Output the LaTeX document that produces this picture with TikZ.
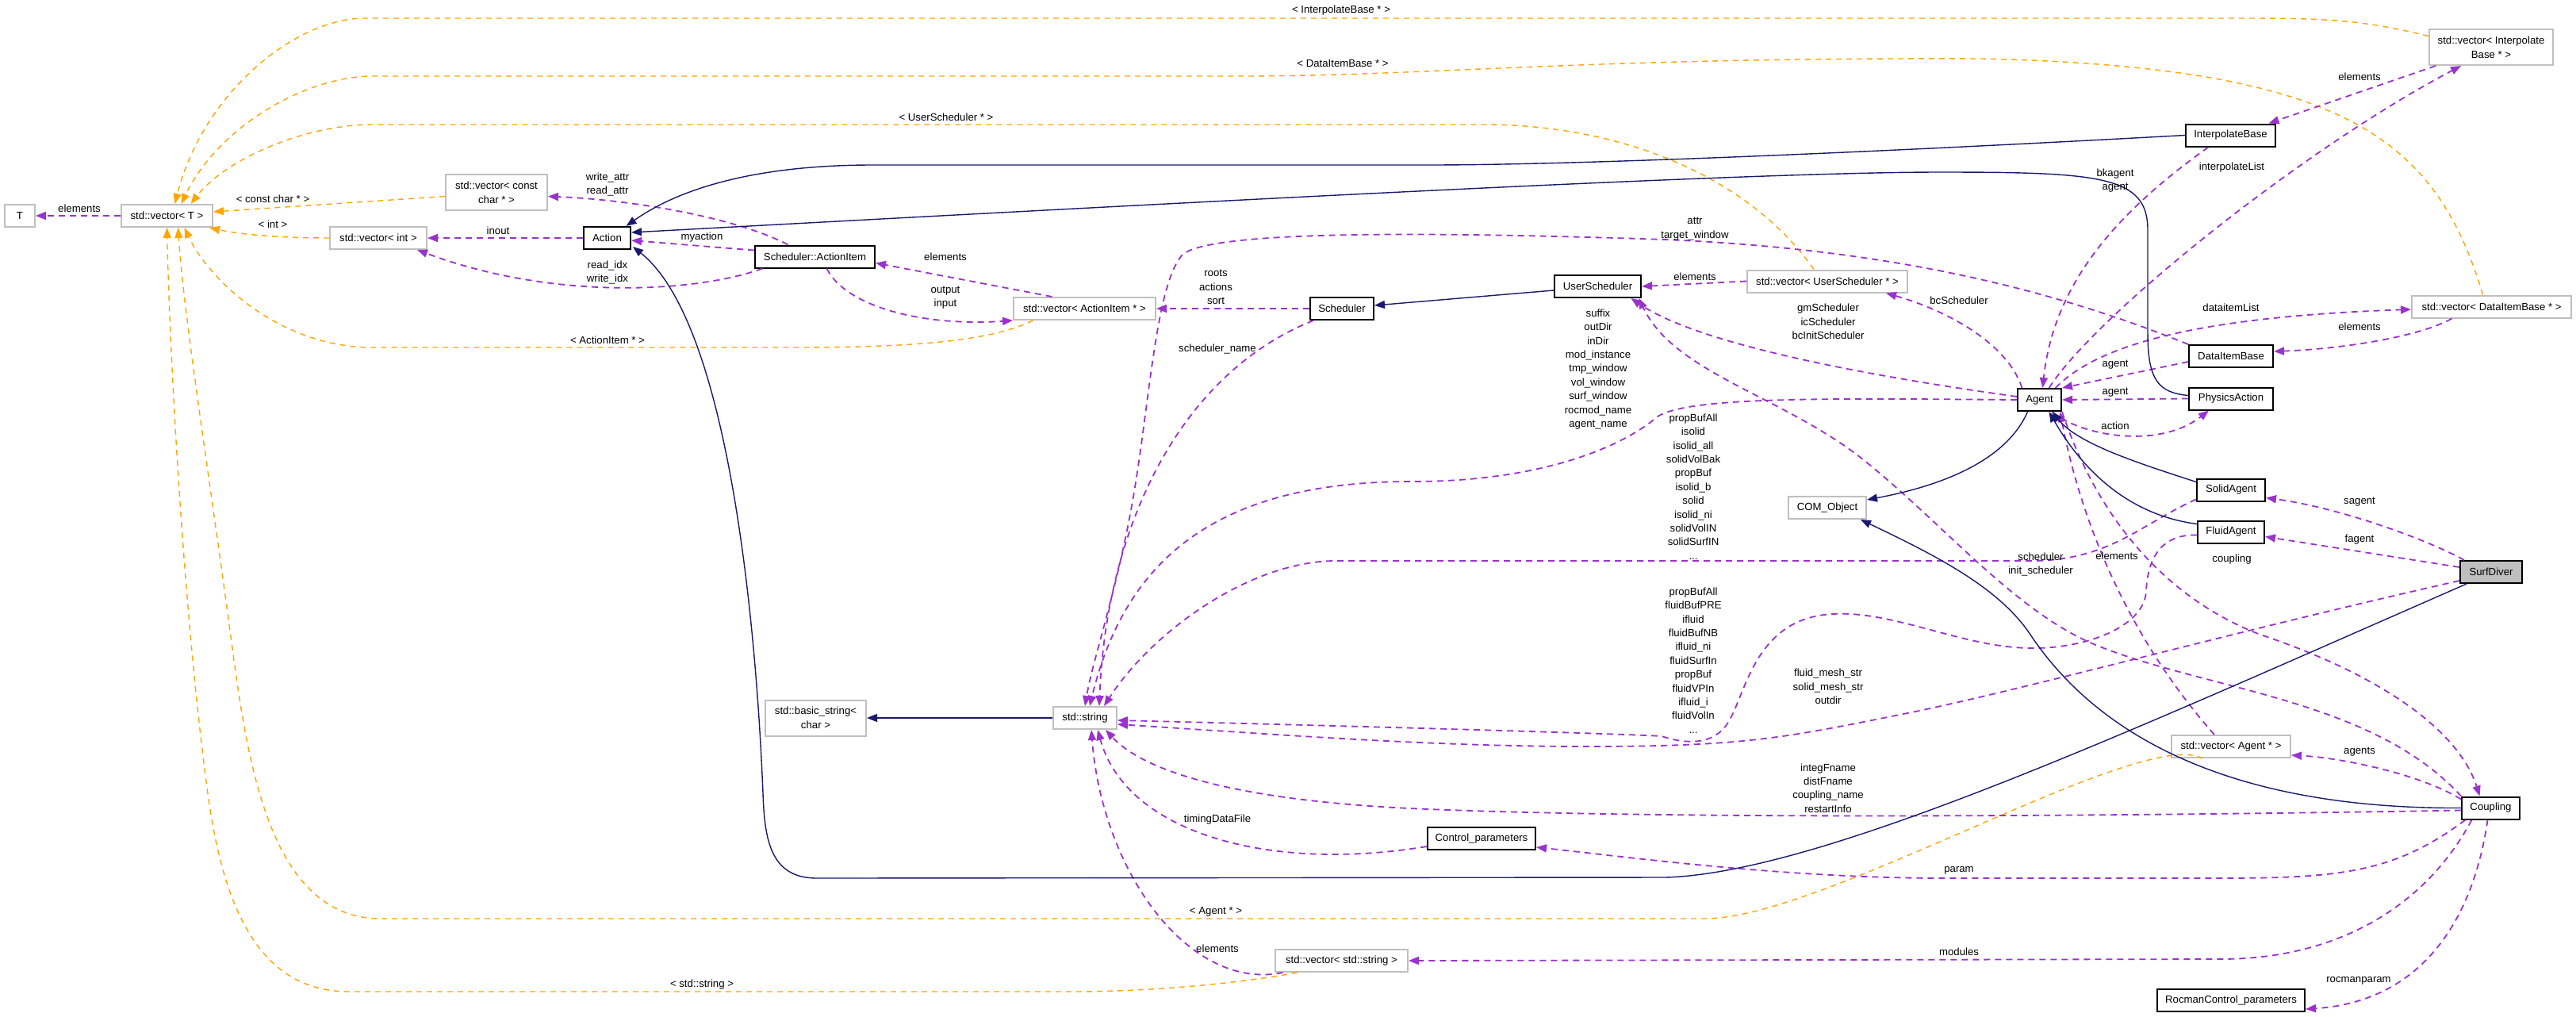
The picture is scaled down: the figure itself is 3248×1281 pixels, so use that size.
\documentclass[tikz,border=0pt]{standalone}
\usepackage{fontspec}
\setmainfont{Liberation Sans}
\usetikzlibrary{arrows.meta}
\definecolor{usecol}{HTML}{9A32CD}
\definecolor{tmplcol}{HTML}{FFA500}
\definecolor{inhcol}{HTML}{191970}
\definecolor{extcol}{HTML}{BFBFBF}
\definecolor{surffill}{HTML}{BFBFBF}
\begin{document}
\begin{tikzpicture}[x=0.5pt,y=-0.5pt,
  boxfont/.style={font=\fontsize{6.6pt}{9pt}\selectfont},
  cls/.style={boxfont,draw=black,line width=1pt,minimum height=14pt,inner sep=0pt,align=center},
  ext/.style={boxfont,draw=extcol,line width=1pt,minimum height=14pt,inner sep=0pt,align=center},
  ext2/.style={ext,minimum height=22.5pt},
  lbl/.style={font=\fontsize{6.6pt}{8.7pt}\selectfont,inner sep=0pt,align=center},
  usage/.style={draw=usecol,line width=0.9pt,dash pattern=on 4pt off 3pt,-{Triangle[length=6.5pt,width=5pt]},fill=none},
  tmpl/.style={draw=tmplcol,line width=0.7pt,dash pattern=on 3.5pt off 3pt,-{Triangle[length=6.5pt,width=5pt]}},
  inh/.style={draw=inhcol,line width=0.7pt,-{Triangle[length=6.5pt,width=5pt]}}
]
\useasboundingbox (0,0) rectangle (3248,1281);
\fill[white] (0,0) rectangle (3248,1281);

% ---------- nodes ----------
\node[ext, minimum width=19pt] (T) at (25,272) {T};
\node[ext, minimum width=57.5pt] (vecT) at (210.5,272) {std::vector< T >};
\node[ext2, minimum width=64pt] (veccc) at (626,242.5) {std::vector< const\\char * >};
\node[ext, minimum width=61pt] (vecint) at (477,300) {std::vector< int >};
\node[cls, minimum width=29.5pt] (Action) at (765.5,300) {Action};
\node[cls, minimum width=75.5pt] (ActionItem) at (1027.5,323.5) {Scheduler::ActionItem};
\node[ext, minimum width=89.5pt] (vecAI) at (1367.5,389) {std::vector< ActionItem * >};
\node[cls, minimum width=40pt] (Scheduler) at (1692,389) {Scheduler};
\node[cls, minimum width=54.5pt] (UserScheduler) at (2014.5,361) {UserScheduler};
\node[ext, minimum width=101pt] (vecUS) at (2304,354.5) {std::vector< UserScheduler * >};
\node[cls, minimum width=56.5pt] (InterpolateBase) at (2812.5,170.5) {InterpolateBase};
\node[ext2, minimum width=78pt] (vecIB) at (3141,59.5) {std::vector< Interpolate\\Base * >};
\node[ext, minimum width=100.5pt] (vecDIB) at (3141.5,386.5) {std::vector< DataItemBase * >};
\node[cls, minimum width=53pt] (DataItemBase) at (2813,449) {DataItemBase};
\node[cls, minimum width=27.5pt] (Agent) at (2571.5,504) {Agent};
\node[cls, minimum width=53pt] (PhysicsAction) at (2813,502.5) {PhysicsAction};
\node[cls, minimum width=43pt] (SolidAgent) at (2813,617.5) {SolidAgent};
\node[cls, minimum width=42pt] (FluidAgent) at (2813,670.5) {FluidAgent};
\node[cls, fill=surffill, minimum width=39pt] (SurfDiver) at (3141,721) {SurfDiver};
\node[ext, minimum width=49pt] (COM) at (2304,640) {COM\_Object};
\node[ext2, minimum width=63.5pt] (basicstr) at (1028.5,905) {std::basic\_string<\\char >};
\node[ext, minimum width=40pt] (string) at (1368,905) {std::string};
\node[cls, minimum width=68pt] (Control) at (1868,1057) {Control\_parameters};
\node[ext, minimum width=83.5pt] (vecstr) at (1691.5,1211) {std::vector< std::string >};
\node[ext, minimum width=75pt] (vecAgent) at (2813,941) {std::vector< Agent * >};
\node[cls, minimum width=36.5pt] (Coupling) at (3140.5,1018.5) {Coupling};
\node[cls, minimum width=93pt] (Rocman) at (2813,1261) {RocmanControl\_parameters};

% ---------- template instance edges ----------
\draw[tmpl] (vecIB.170) .. controls (2980,25) and (2930,23) .. (2830,23) -- (460,23) .. controls (370,23) and (255,120) .. ([xshift=5pt]vecT.north);
\draw[tmpl] ([xshift=-5.5pt]vecDIB.north) .. controls (3070,170) and (2950,85) .. (2500,74) .. controls (2000,72) and (1800,96) .. (1560,96) -- (470,96) .. controls (385,96) and (275,160) .. ([xshift=9pt]vecT.north);
\draw[tmpl] ([xshift=-8.5pt]vecUS.north) .. controls (2210,230) and (2060,160) .. (1880,157) -- (470,157) .. controls (385,157) and (285,200) .. ([xshift=15pt]vecT.north);
\draw[tmpl] ([yshift=-2.5pt]veccc.west) -- ([yshift=2.5pt]vecT.east);
\draw[tmpl] (vecint.west) .. controls (350,300) and (300,295) .. ([xshift=-2.5pt]vecT.south east);
\draw[tmpl] ([xshift=-32.5pt]vecAI.south) .. controls (1250,430) and (1150,438) .. (1000,438) -- (470,438) .. controls (350,438) and (262,350) .. ([xshift=11pt]vecT.south);
\draw[tmpl] ([xshift=-18pt]vecAgent.south) .. controls (2700,915) and (2300,1158) .. (2150,1158) -- (480,1158) .. controls (340,1158) and (312,960) .. (292,810) .. controls (262,585) and (232,400) .. ([xshift=7pt]vecT.south);
\draw[tmpl] ([xshift=-28pt]vecstr.south) .. controls (1560,1240) and (1450,1250) .. (1350,1250) -- (440,1250) .. controls (330,1250) and (282,1150) .. (262,1000) .. controls (232,780) and (214,450) .. (vecT.south);

% ---------- usage edges ----------
\draw[usage] (vecT.west) -- (T.east);
\draw[usage] ([xshift=-17pt]ActionItem.north) .. controls (930,275) and (800,252) .. ([yshift=-2.5pt]veccc.east);
\draw[usage] (Action.west) -- (vecint.east);
\draw[usage] ([yshift=4pt]ActionItem.west) -- ([yshift=-1.5pt]Action.east);
\draw[usage] ([xshift=-33pt]ActionItem.south) .. controls (880,368) and (700,380) .. ([xshift=24.5pt]vecint.south);
\draw[usage] ([xshift=-20.5pt]vecAI.north) -- ([yshift=-4pt]ActionItem.east);
\draw[usage] ([xshift=7.5pt]ActionItem.south) .. controls (1065,385) and (1160,412) .. (vecAI.south west);
\draw[usage] (Scheduler.west) -- (vecAI.east);
\draw[usage] ([xshift=-18pt]Scheduler.south) .. controls (1490,470) and (1395,660) .. ([xshift=9pt]string.north);
\draw[usage] (Agent.west) .. controls (2300,502) and (2130,500) .. (2090,525) .. controls (2050,560) and (1950,607) .. (1780,607) .. controls (1540,607) and (1420,700) .. ([xshift=3pt]string.north);
\draw[usage] (vecUS.west) -- (UserScheduler.east);
\draw[usage] ([yshift=2pt]Agent.west) .. controls (2400,480) and (2150,440) .. ([xshift=21pt]UserScheduler.south);
\draw[usage] ([xshift=-11pt]Agent.north) .. controls (2530,430) and (2450,390) .. ([xshift=37pt]vecUS.south);
\draw[usage] (DataItemBase.north west) .. controls (2600,370) and (2400,315) .. (2100,302) .. controls (1800,292) and (1520,290) .. (1490,322) .. controls (1458,360) and (1450,500) .. (1430,620) .. controls (1410,740) and (1378,830) .. (string.north);
\draw[usage] ([xshift=-14pt]InterpolateBase.south) .. controls (2680,260) and (2590,350) .. ([xshift=2pt]Agent.north);
\draw[usage] ([xshift=-35pt]vecIB.south) -- ([xshift=24pt]InterpolateBase.north);
\draw[usage] ([xshift=6pt]Agent.north) .. controls (2640,400) and (2900,190) .. ([xshift=-19pt]vecIB.south);
\draw[usage] ([xshift=10pt]Agent.north) .. controls (2640,440) and (2750,400) .. ([yshift=-1.75pt]vecDIB.west);
\draw[usage] ([xshift=-25pt]vecDIB.south) .. controls (3050,425) and (2950,440) .. ([yshift=3pt]DataItemBase.east);
\draw[usage] ([yshift=-3.5pt]DataItemBase.west) -- (Agent.north east);
\draw[usage] (PhysicsAction.west) -- (Agent.east);
\draw[usage] ([xshift=8pt]Agent.south) .. controls (2620,548) and (2720,568) .. ([xshift=-14pt]PhysicsAction.south);
\draw[usage] ([xshift=-17pt]SurfDiver.north) .. controls (3060,680) and (2950,640) .. ([yshift=-5pt]SolidAgent.east);
\draw[usage] ([yshift=3pt]SurfDiver.west) -- ([yshift=-3pt]FluidAgent.east);
\draw[usage] (Agent.south east) .. controls (2640,640) and (2720,750) .. (2850,800) .. controls (3000,850) and (3100,920) .. ([xshift=-7pt]Coupling.north);
\draw[usage] ([xshift=-10.5pt]vecAgent.north) .. controls (2680,800) and (2622,650) .. ([xshift=13pt]Agent.south);
\draw[usage] (Coupling.north west) .. controls (2990,880) and (2780,870) .. (2640,812) .. controls (2540,770) and (2450,660) .. (2350,580) .. controls (2250,500) and (2110,470) .. ([xshift=26pt]UserScheduler.south);
\draw[usage] ([yshift=-2pt]Coupling.north west) .. controls (3050,975) and (2950,955) .. ([yshift=-5.5pt]vecAgent.east);
\draw[usage] ([yshift=-1.5pt]Coupling.west) .. controls (2600,1030) and (2100,1032) .. (1800,1020) .. controls (1550,1010) and (1440,970) .. ([xshift=13pt]string.south);
\draw[usage] ([xshift=-16pt]Coupling.south) .. controls (3020,1100) and (2950,1107) .. (2800,1107) -- (2450,1107) .. controls (2250,1107) and (2050,1080) .. ([yshift=-5.5pt]Control.east);
\draw[usage] ([xshift=-12pt]Coupling.south) .. controls (3060,1140) and (2950,1209) .. (2800,1209) -- (vecstr.east);
\draw[usage] ([xshift=-2pt]Coupling.south) .. controls (3120,1150) and (3060,1262) .. ([yshift=-5.5pt]Rocman.east);
\draw[usage] ([yshift=-5pt]Control.west) .. controls (1600,1100) and (1420,1050) .. ([xshift=8pt]string.south);
\draw[usage] ([xshift=-37pt]vecstr.south) .. controls (1500,1250) and (1390,1100) .. ([xshift=4pt]string.south);
\draw[usage] ([yshift=-6pt]SolidAgent.west) .. controls (2700,660) and (2660,707) .. (2560,707) -- (1680,707) .. controls (1570,710) and (1450,800) .. ([xshift=12pt]string.north);
\draw[usage] ([yshift=-2pt]FluidAgent.west) .. controls (2728,673) and (2708,700) .. (2706,745) .. controls (2704,790) and (2630,818) .. (2560,817) .. controls (2470,816) and (2380,765) .. (2300,775) .. controls (2210,786) and (2200,880) .. (2178,912) .. controls (2160,940) and (2125,938) .. (2095,928) .. controls (2050,925) and (1700,915) .. ([yshift=-1.5pt]string.east);
\draw[usage] ([yshift=-5.5pt]SurfDiver.west) .. controls (2800,800) and (2550,870) .. (2400,900) .. controls (2250,930) and (2200,941) .. (2000,941) .. controls (1800,941) and (1600,925) .. ([yshift=-4pt]string.east);

% ---------- inheritance edges ----------
\draw[inh] ([yshift=-2.5pt]UserScheduler.west) -- ([yshift=2pt]Scheduler.east);
\draw[inh] ([yshift=2pt]PhysicsAction.west) .. controls (2722,495) and (2708,480) .. (2708,420) -- (2708,290) .. controls (2708,222) and (2650,217) .. (2446,217) .. controls (2200,217) and (1500,255) .. ([yshift=3.5pt]Action.east);
\draw[inh] (InterpolateBase.west) .. controls (2400,190) and (2000,208) .. (1800,208) -- (1100,208) .. controls (960,208) and (860,235) .. ([xshift=12pt]Action.north);
\draw[inh] ([xshift=-15.5pt]SurfDiver.south) .. controls (2700,915) and (2300,1100) .. (2100,1106) -- (1030,1107) .. controls (972,1107) and (964,1060) .. (962,1000) .. controls (958,900) and (935,420) .. ([xshift=1pt,yshift=2pt]Action.south east);
\draw[inh] ([xshift=-7.5pt]Agent.south) .. controls (2530,580) and (2450,612) .. ([yshift=5pt]COM.east);
\draw[inh] ([yshift=5pt]SolidAgent.west) .. controls (2700,585) and (2620,560) .. ([xshift=8pt]Agent.south);
\draw[inh] ([yshift=5pt]FluidAgent.west) .. controls (2690,650) and (2630,600) .. ([xshift=6pt]Agent.south);
\draw[inh] (Coupling.west) .. controls (2800,1020) and (2640,920) .. (2560,800) .. controls (2520,740) and (2440,700) .. ([xshift=21pt]COM.south);
\draw[inh] (string.west) -- (basicstr.east);

% ---------- labels ----------
\node[lbl] (lTel) at (100,263) {elements};
\node[lbl] (lcc) at (344,251) {< const char * >};
\node[lbl] (lint) at (344,283) {< int >};
\node[lbl] (lIB) at (1691,13) {< InterpolateBase * >};
\node[lbl] (lDIB) at (1693,80) {< DataItemBase * >};
\node[lbl] (lUS) at (1193,148) {< UserScheduler * >};
\node[lbl] (lAI) at (766,429) {< ActionItem * >};
\node[lbl] (lAg) at (1533,1149) {< Agent * >};
\node[lbl] (lstr) at (885,1241) {< std::string >};
\node[lbl] (lattr) at (766,232.5) {write\_attr\\read\_attr};
\node[lbl] (linout) at (628,291) {inout};
\node[lbl] (lmy) at (885,299) {myaction};
\node[lbl] (lidx) at (766,343.5) {read\_idx\\write\_idx};
\node[lbl] (lel2) at (1192,324) {elements};
\node[lbl] (lio) at (1192,375) {output\\input};
\node[lbl] (lroots) at (1533,362) {roots\\actions\\sort};
\node[lbl] (lsn) at (1535,440) {scheduler\_name};
\node[lbl] (lagstr) at (2015,465.5) {suffix\\outDir\\inDir\\mod\_instance\\tmp\_window\\vol\_window\\surf\_window\\rocmod\_name\\agent\_name};
\node[lbl] (lel3) at (2137,349) {elements};
\node[lbl] (lgm) at (2305,405.5) {gmScheduler\\icScheduler\\bcInitScheduler};
\node[lbl] (lbc) at (2470,379) {bcScheduler};
\node[lbl] (ltw) at (2137,288.5) {attr\\target\_window};
\node[lbl] (lbk) at (2667,227.5) {bkagent\\agent};
\node[lbl] (lel4) at (2975,97) {elements};
\node[lbl] (lil) at (2814,211) {interpolateList};
\node[lbl] (ldl) at (2813,388) {dataitemList};
\node[lbl] (lel5) at (2975,412) {elements};
\node[lbl] (lag1) at (2667,460) {agent};
\node[lbl] (lag2) at (2667,495) {agent};
\node[lbl] (lact) at (2667,537) {action};
\node[lbl] (lsag) at (2975,633) {sagent};
\node[lbl] (lfag) at (2975,680) {fagent};
\node[lbl] (lcoup) at (2814,705) {coupling};
\node[lbl] (lsch) at (2573,711.5) {scheduler\\init\_scheduler};
\node[lbl] (lel6) at (2669,701) {elements};
\node[lbl] (lsol) at (2135,613.5) {propBufAll\\isolid\\isolid\_all\\solidVolBak\\propBuf\\isolid\_b\\solid\\isolid\_ni\\solidVolIN\\solidSurfIN\\...};
\node[lbl] (lflu) at (2135,832.5) {propBufAll\\fluidBufPRE\\ifluid\\fluidBufNB\\ifluid\_ni\\fluidSurfIn\\propBuf\\fluidVPIn\\ifluid\_i\\fluidVolIn\\...};
\node[lbl] (lmesh) at (2305,865.5) {fluid\_mesh\_str\\solid\_mesh\_str\\outdir};
\node[lbl] (lint2) at (2305,993.5) {integFname\\distFname\\coupling\_name\\restartInfo};
\node[lbl] (lagents) at (2975,948) {agents};
\node[lbl] (lparam) at (2470,1097) {param};
\node[lbl] (lmod) at (2470,1200) {modules};
\node[lbl] (lrp) at (2974,1236) {rocmanparam};
\node[lbl] (ltdf) at (1535,1033) {timingDataFile};
\node[lbl] (lel7) at (1535,1196) {elements};
\end{tikzpicture}
\end{document}
